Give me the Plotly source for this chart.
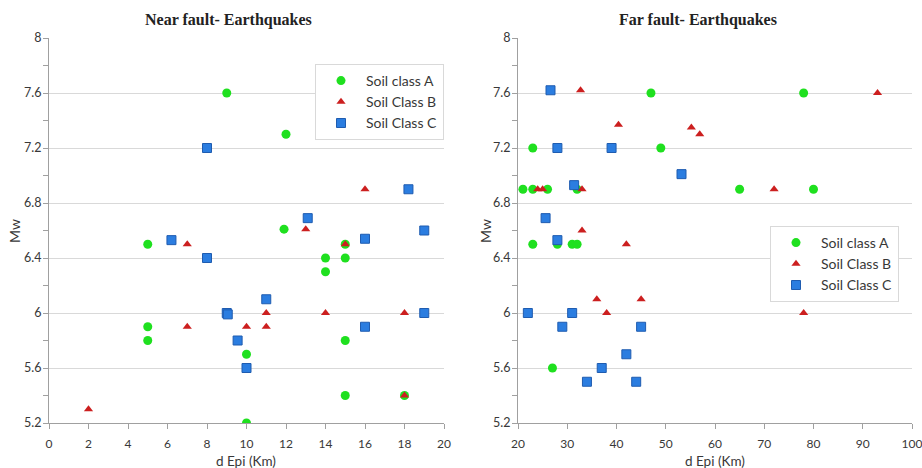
import plotly.graph_objects as go

# ---------------- data ----------------
near_A_x = [9, 12, 11.9, 5, 14, 14, 15, 15, 5, 5, 10, 15, 15, 18, 10]
near_A_y = [7.6, 7.3, 6.61, 6.5, 6.4, 6.3, 6.4, 6.5, 5.9, 5.8, 5.7, 5.8, 5.4, 5.4, 5.2]

near_B_x = [2, 7, 7, 10, 11, 11, 14, 18, 13, 16, 15, 18]
near_B_y = [5.3, 6.5, 5.9, 5.9, 5.9, 6.0, 6.0, 6.0, 6.61, 6.9, 6.5, 5.4]

near_C_x = [8, 13.1, 18.2, 19, 6.2, 16, 8, 11, 9, 9.05, 19, 16, 9.55, 10]
near_C_y = [7.2, 6.69, 6.9, 6.6, 6.53, 6.54, 6.4, 6.1, 6.0, 5.99, 6.0, 5.9, 5.8, 5.6]

far_A_x = [21, 23, 26, 32, 23, 47, 49, 65, 78, 80, 23, 28, 31, 32, 27]
far_A_y = [6.9, 6.9, 6.9, 6.9, 7.2, 7.6, 7.2, 6.9, 7.6, 6.9, 6.5, 6.5, 6.5, 6.5, 5.6]

far_B_x = [24, 25, 33, 32.7, 40.4, 55.2, 56.9, 72, 93, 33, 42, 36, 45, 38, 78]
far_B_y = [6.9, 6.9, 6.9, 7.62, 7.37, 7.35, 7.3, 6.9, 7.6, 6.6, 6.5, 6.1, 6.1, 6.0, 6.0]

far_C_x = [26.6, 28, 39, 53.2, 31.4, 25.6, 28, 22, 31, 29, 45, 42, 37, 34, 44]
far_C_y = [7.62, 7.2, 7.2, 7.01, 6.93, 6.69, 6.53, 6.0, 6.0, 5.9, 5.9, 5.7, 5.6, 5.5, 5.5]

series_names = ["Soil class A", "Soil Class B", "Soil Class C"]
titles = ["Near fault- Earthquakes", "Far fault- Earthquakes"]
y_tickvals = [5.2, 5.6, 6.0, 6.4, 6.8, 7.2, 7.6, 8.0]
y_ticktext = ["5.2", "5.6", "6", "6.4", "6.8", "7.2", "7.6", "8"]
near_xticks = [0, 2, 4, 6, 8, 10, 12, 14, 16, 18, 20]
far_xticks = [20, 30, 40, 50, 60, 70, 80, 90, 100]

# ---------------- styles ----------------
W, H = 922, 468
FONT = "Lato, 'Noto Sans', sans-serif"
TXT = "#383838"
GRID = "#d9d9d9"
AXL = "#a0a0a0"

styles = [
    dict(symbol="circle", size=9, color="#1fe01f", line=dict(width=0)),
    dict(symbol="triangle-up", size=8, color="#cc1f1f", line=dict(width=0)),
    dict(symbol="square", size=9, color="#2b7de0", line=dict(width=1, color="#1f5cb0")),
]

fig = go.Figure()

near = [(near_A_x, near_A_y), (near_B_x, near_B_y), (near_C_x, near_C_y)]
far = [(far_A_x, far_A_y), (far_B_x, far_B_y), (far_C_x, far_C_y)]

for (xs, ys), name, st in zip(near, series_names, styles):
    fig.add_trace(go.Scatter(x=xs, y=ys, mode="markers", name=name, marker=st,
                             xaxis="x", yaxis="y", legend="legend"))
for (xs, ys), name, st in zip(far, series_names, styles):
    fig.add_trace(go.Scatter(x=xs, y=ys, mode="markers", name=name, marker=st,
                             xaxis="x2", yaxis="y2", legend="legend2"))

def px_x(p):
    return p / W

def px_y(p):
    return 1 - p / H

top, bottom = 38, 423
dom_y = [px_y(bottom), px_y(top)]

yaxis_common = dict(
    range=[5.2, 8.0], tickvals=y_tickvals, ticktext=y_ticktext,
    showgrid=True, gridcolor=GRID, gridwidth=1,
    showline=True, linecolor=AXL, linewidth=1,
    ticks="", zeroline=False, automargin=False, ticklabelstandoff=4,
    minor=dict(dtick=0.2, tick0=5.2, ticks="outside", ticklen=5, tickcolor=AXL, showgrid=False),
    tickfont=dict(family=FONT, size=12.5, color=TXT),
    domain=dom_y, fixedrange=True,
)
xaxis_common = dict(
    showgrid=False, showline=True, linecolor=AXL, linewidth=1,
    ticks="outside", ticklen=5, tickcolor=AXL, zeroline=False, automargin=False,
    ticklabelstandoff=5, ticklabeloverflow="allow",
    tickfont=dict(family=FONT, size=12, color=TXT), fixedrange=True,
)

legend_common = dict(
    bordercolor="#d9d9d9", borderwidth=1, bgcolor="white",
    font=dict(family=FONT, size=14, color=TXT), itemwidth=40, tracegroupgap=0,
)

fig.update_layout(
    width=W, height=H,
    margin=dict(l=0, r=0, t=0, b=0, autoexpand=False),
    paper_bgcolor="white", plot_bgcolor="white",
    xaxis=dict(xaxis_common, range=[0, 20], tickvals=near_xticks,
               domain=[px_x(49), px_x(444)], anchor="y"),
    yaxis=dict(yaxis_common, anchor="x"),
    xaxis2=dict(xaxis_common, range=[20, 100], tickvals=far_xticks,
                domain=[px_x(518), px_x(912)], anchor="y2"),
    yaxis2=dict(yaxis_common, anchor="x2"),
    legend=dict(legend_common, x=px_x(444), xanchor="right", y=px_y(64), yanchor="top"),
    legend2=dict(legend_common, x=px_x(770), xanchor="left", y=px_y(226), yanchor="top"),
    showlegend=True,
)

SERIF = "'Liberation Serif', 'Times New Roman', serif"

def ann(text, x, y, size, family, color, angle=0):
    return dict(text=text, x=px_x(x), y=px_y(y), xref="paper", yref="paper",
                xanchor="center", yanchor="middle", textangle=angle,
                showarrow=False, font=dict(family=family, size=size, color=color))

annotations = [
    ann("<b>%s</b>" % titles[0], 228, 20, 16, SERIF, "#222"),
    ann("<b>%s</b>" % titles[1], 698, 20, 16, SERIF, "#222"),
    ann("Mw", 14, 231, 14, FONT, TXT, -90),
    ann("Mw", 485, 231, 14, FONT, TXT, -90),
    ann("d Epi (Km)", 246, 461, 13.5, FONT, TXT),
    ann("d Epi (Km)", 715, 461, 13.5, FONT, TXT),
]
fig.update_layout(annotations=annotations)

fig.write_html("out.html")
